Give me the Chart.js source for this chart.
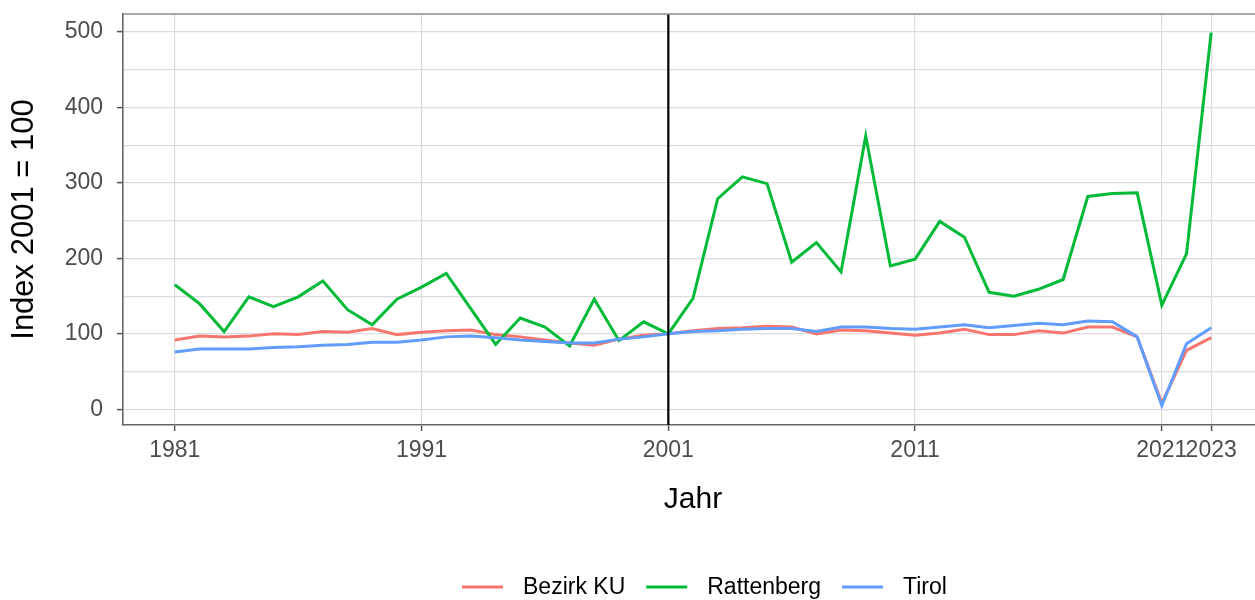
<!DOCTYPE html>
<html>
<head>
<meta charset="utf-8">
<script src="https://cdn.jsdelivr.net/npm/chart.js@4.4.1/dist/chart.umd.min.js"></script>
<style>
  html, body { margin: 0; padding: 0; background: #ffffff; overflow: hidden; width: 1255px; height: 600px; }
  #wrap { position: absolute; left: 0; top: 0; width: 1263px; height: 600px; }
</style>
</head>
<body>
<div id="wrap"><canvas id="c" width="1263" height="600"></canvas></div>
<script>
const years = [1981,1982,1983,1984,1985,1986,1987,1988,1989,1990,1991,1992,1993,1994,1995,1996,1997,1998,1999,2000,2001,2002,2003,2004,2005,2006,2007,2008,2009,2010,2011,2012,2013,2014,2015,2016,2017,2018,2019,2020,2021,2022,2023];

const bezirkKU = [92,97,96,97,100,99,103,102,107,99,102,104,105,99,96,92,88,85,93,98,100,104,107,108,110,109,100,105,104,101,98,101,106,99,99,104,101,109,109,96,8,78,95];

const rattenberg = [165,140,103,149,136,149,170,132,112,146,162,180,133,86,121,109,84,146,91,116,100,147,279,308,299,195,221,182,362,190,199,249,228,155,150,159,172,282,286,287,138,206,499];

const tirol = [76,80,80,80,82,83,85,86,89,89,92,96,97,95,92,90,88,88,93,96,100,103,104,106,107,107,103,109,109,107,106,109,112,108,111,114,112,117,116,96,5,87,108];

const seriesNames = ['Bezirk KU', 'Rattenberg', 'Tirol'];
const seriesColors = ['#F8766D', '#00BA38', '#619CFF'];

const xTicks = [1981, 1991, 2001, 2011, 2021, 2023];
const yTicks = [0, 50, 100, 150, 200, 250, 300, 350, 400, 450, 500];
const yLabelled = [0, 100, 200, 300, 400, 500];
const refYear = 2001;

const xTitle = 'Jahr';
const yTitle = 'Index 2001 = 100';

const FONT = '"Liberation Sans", Arial, Helvetica, sans-serif';

function toPoints(vals) {
  return years.map((y, i) => ({ x: y, y: vals[i] }));
}

const allSeries = [bezirkKU, rattenberg, tirol];
const datasets = allSeries.map((vals, i) => ({
  label: seriesNames[i],
  data: toPoints(vals),
  borderColor: seriesColors[i],
  backgroundColor: seriesColors[i],
  borderWidth: 3,
  pointRadius: 0,
  pointHoverRadius: 0,
  tension: 0,
  fill: false,
  order: 3 - i
}));

const extrasPlugin = {
  id: 'extras',
  afterDatasetsDraw(chart) {
    const { ctx, chartArea, scales } = chart;
    const px = scales.x.getPixelForValue(refYear);
    ctx.save();
    ctx.strokeStyle = '#000000';
    ctx.lineWidth = 2.2;
    ctx.beginPath();
    ctx.moveTo(px, chartArea.top);
    ctx.lineTo(px, chartArea.bottom);
    ctx.stroke();
    ctx.strokeStyle = '#8c8c8c';
    ctx.lineWidth = 1.5;
    ctx.beginPath();
    ctx.moveTo(chartArea.left, chartArea.top);
    ctx.lineTo(chartArea.right, chartArea.top);
    ctx.stroke();
    ctx.restore();
  },
  afterDraw(chart) {
    const { ctx } = chart;
    ctx.save();
    ctx.font = '23px ' + FONT;
    ctx.textBaseline = 'middle';
    ctx.textAlign = 'left';
    let x = 462;
    const y = 587;
    chart.data.datasets.forEach(ds => {
      ctx.strokeStyle = ds.borderColor;
      ctx.lineWidth = 3;
      ctx.beginPath();
      ctx.moveTo(x, y);
      ctx.lineTo(x + 41, y);
      ctx.stroke();
      ctx.fillStyle = '#000000';
      ctx.fillText(ds.label, x + 61, y + 1);
      x = x + 61 + ctx.measureText(ds.label).width + 21;
    });
    ctx.restore();
  }
};

new Chart(document.getElementById('c'), {
  type: 'line',
  data: { datasets },
  plugins: [extrasPlugin],
  options: {
    responsive: false,
    devicePixelRatio: 1,
    animation: false,
    layout: { padding: { top: 14, right: 0, bottom: 70, left: 0 } },
    plugins: {
      legend: { display: false },
      tooltip: { enabled: false }
    },
    scales: {
      x: {
        type: 'linear',
        min: 1978.9,
        max: 2025.1,
        afterBuildTicks(scale) { scale.ticks = xTicks.map(v => ({ value: v })); },
        afterFit(scale) {
          scale.height = 105;
          scale.paddingLeft = 0; scale.paddingRight = 0;
          scale.paddingTop = 0; scale.paddingBottom = 0;
        },
        ticks: {
          autoSkip: false,
          maxRotation: 0,
          minRotation: 0,
          padding: 6,
          color: '#4d4d4d',
          font: { family: FONT, size: 23 },
          callback: (v) => String(v)
        },
        grid: {
          color: '#dcdcdc',
          lineWidth: 1.2,
          drawTicks: true,
          tickLength: 6,
          tickColor: '#555555',
          tickWidth: 1.5
        },
        border: { display: true, color: '#666666', width: 1.6 },
        title: {
          display: true,
          text: xTitle,
          color: '#000000',
          font: { family: FONT, size: 30 },
          padding: { top: 0, bottom: 12 }
        }
      },
      y: {
        type: 'linear',
        min: -20.75,
        max: 523.75,
        afterBuildTicks(scale) { scale.ticks = yTicks.map(v => ({ value: v })); },
        afterFit(scale) {
          scale.width = 123;
          scale.paddingLeft = 0; scale.paddingRight = 0;
          scale.paddingTop = 0; scale.paddingBottom = 0;
        },
        ticks: {
          autoSkip: false,
          padding: 14,
          color: '#4d4d4d',
          font: { family: FONT, size: 23 },
          callback: (v) => yLabelled.includes(v) ? String(v) : ''
        },
        grid: {
          color: '#dcdcdc',
          lineWidth: 1.2,
          drawTicks: true,
          tickLength: 6,
          tickColor: (c) => (c.tick && yLabelled.includes(c.tick.value)) ? '#555555' : 'rgba(0,0,0,0)',
          tickWidth: 1.5
        },
        border: { display: true, color: '#666666', width: 1.6 },
        title: {
          display: true,
          text: yTitle,
          color: '#000000',
          font: { family: FONT, size: 31 },
          padding: { top: 5.4, bottom: 0 }
        }
      }
    }
  }
});
</script>
</body>
</html>
